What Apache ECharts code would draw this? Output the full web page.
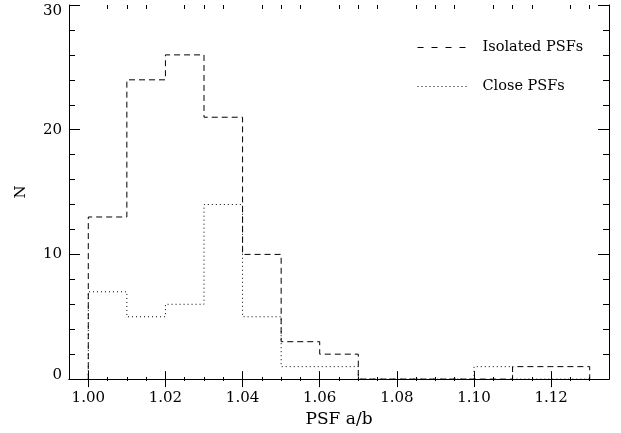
<!DOCTYPE html>
<html><head><meta charset="utf-8">
<script src="https://cdn.jsdelivr.net/npm/echarts@6/dist/echarts.min.js"></script>
<style>html,body{margin:0;padding:0;background:#fff}#c{width:621px;height:433px}</style>
</head><body><div id="c"></div>
<script>
// bin edges (PSF a/b) and counts
var binEdges = [1.00,1.01,1.02,1.03,1.04,1.05,1.06,1.07,1.08,1.09,1.10,1.11,1.12,1.13];
var isolatedCounts = [13,24,26,21,10,3,2,0,0,0,0,1,1];
var closeCounts    = [7,5,6,14,5,1,1,0,0,0,1,0,0];
var xMajorTicks = [1.00,1.02,1.04,1.06,1.08,1.10,1.12];
var xMinorTicks = [1.005,1.01,1.015,1.025,1.03,1.035,1.045,1.05,1.055,1.065,1.07,1.075,1.085,1.09,1.095,1.105,1.11,1.115,1.125,1.13];
var seriesNames = ['Isolated PSFs','Close PSFs'];

function steps(edges, counts){
  var pts=[[edges[0],0]];
  for(var i=0;i<counts.length;i++){ pts.push([edges[i],counts[i]]); pts.push([edges[i+1],counts[i]]); }
  pts.push([edges[counts.length],0]);
  return pts;
}
var FONT='DejaVu Serif';
var XMIN=0.995, XMAX=1.135;
var lineAxis={show:true,lineStyle:{color:'#000',width:1}};
var chart=echarts.init(document.getElementById('c'),null,{renderer:'canvas'});
chart.setOption({
  animation:false,
  backgroundColor:'#fff',
  grid:[{left:69,right:12,top:5,bottom:52},{left:69,right:12,top:5,bottom:52}],
  legend:{left:412,top:35,orient:'vertical',itemWidth:50,itemHeight:14,itemGap:24,
    itemStyle:{opacity:0},
    textStyle:{fontFamily:FONT,fontSize:14.5,color:'#000',padding:[0,0,0,10]},
    data:[{name:seriesNames[0],lineStyle:{type:[6,8],width:1,color:'#000'}},
          {name:seriesNames[1],lineStyle:{type:[1,3],width:1,color:'#000'}}]},
  xAxis:[
    {type:'value',gridIndex:0,position:'bottom',min:XMIN,max:XMAX,axisLine:lineAxis,splitLine:{show:false},
     axisTick:{show:true,inside:true,length:8,customValues:xMajorTicks,lineStyle:{color:'#000'}},
     axisLabel:{show:true,customValues:xMajorTicks,margin:12,fontFamily:FONT,fontSize:15,color:'#000',
       formatter:function(v){return v.toFixed(2);}},
     name:'PSF a/b',nameLocation:'middle',nameGap:23,nameTextStyle:{fontFamily:FONT,fontSize:17,color:'#000'}},
    {type:'value',gridIndex:0,position:'top',min:XMIN,max:XMAX,axisLine:lineAxis,splitLine:{show:false},
     axisTick:{show:true,inside:true,length:8,customValues:xMajorTicks,lineStyle:{color:'#000'}},
     axisLabel:{show:false}},
    {type:'value',gridIndex:1,position:'bottom',min:XMIN,max:XMAX,axisLine:{show:false},splitLine:{show:false},
     axisTick:{show:true,inside:true,length:4,customValues:xMinorTicks,lineStyle:{color:'#000'}},
     axisLabel:{show:false}},
    {type:'value',gridIndex:1,position:'top',min:XMIN,max:XMAX,axisLine:{show:false},splitLine:{show:false},
     axisTick:{show:true,inside:true,length:4,customValues:xMinorTicks,lineStyle:{color:'#000'}},
     axisLabel:{show:false}}
  ],
  yAxis:[
    {type:'value',gridIndex:0,position:'left',min:0,max:30,interval:10,axisLine:lineAxis,splitLine:{show:false},
     axisTick:{show:true,inside:true,length:11,lineStyle:{color:'#000'}},
     minorTick:{show:true,splitNumber:5,length:6,lineStyle:{color:'#000'}},
     minorSplitLine:{show:false},
     axisLabel:{margin:7,fontFamily:FONT,fontSize:15,color:'#000',
       formatter:function(v){ if(v===30) return '{t|30}'; if(v===0) return '{b|0}'; return String(v); },
       rich:{t:{fontFamily:FONT,fontSize:15,color:'#000',padding:[13,0,0,0]},
             b:{fontFamily:FONT,fontSize:15,color:'#000',padding:[0,0,8,0]}}},
     name:'N',nameLocation:'middle',nameGap:40,nameTextStyle:{fontFamily:FONT,fontSize:15,color:'#000'}},
    {type:'value',gridIndex:0,position:'right',min:0,max:30,interval:10,axisLine:lineAxis,splitLine:{show:false},
     axisTick:{show:true,inside:true,length:11,lineStyle:{color:'#000'}},
     minorTick:{show:true,splitNumber:5,length:6,lineStyle:{color:'#000'}},
     minorSplitLine:{show:false},
     axisLabel:{show:false}},
    {type:'value',gridIndex:1,min:0,max:30,show:false}
  ],
  series:[
    {name:seriesNames[0],type:'line',xAxisIndex:0,yAxisIndex:0,symbol:'none',data:steps(binEdges,isolatedCounts),
     lineStyle:{color:'#000',width:1,type:[6,4]},itemStyle:{color:'#000'}},
    {name:seriesNames[1],type:'line',xAxisIndex:0,yAxisIndex:0,symbol:'none',data:steps(binEdges,closeCounts),
     lineStyle:{color:'#000',width:1,type:[1,3]},itemStyle:{color:'#000'}}
  ]
});
</script></body></html>
